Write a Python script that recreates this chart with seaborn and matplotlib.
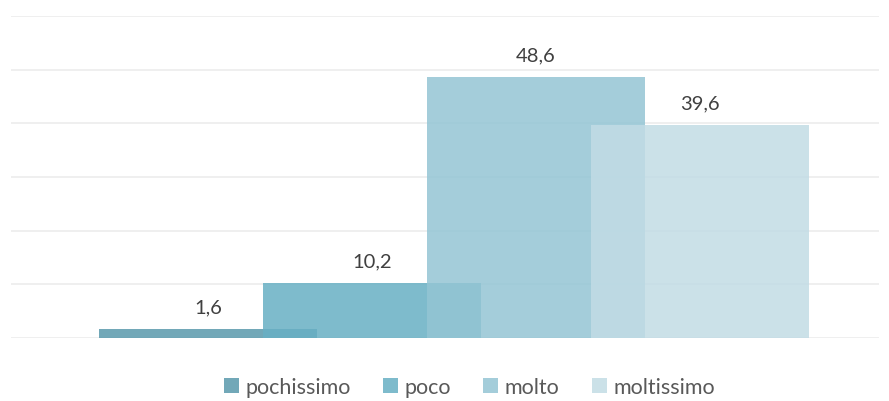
import matplotlib
matplotlib.use("Agg")
import matplotlib.pyplot as plt
import seaborn as sns
import pandas as pd

# ===== dati =====
categorie = ['pochissimo', 'poco', 'molto', 'moltissimo']
valori = [1.6, 10.2, 48.6, 39.6]
etichette = ['1,6', '10,2', '48,6', '39,6']
colori = ['#5999ac', '#68b0c4', '#94c5d4', '#c2dce5']

df = pd.DataFrame({'categoria': categorie, 'valore': valori})

sns.set_theme(style="white")
plt.rcParams['font.family'] = ['Lato', 'DejaVu Sans']

fig = plt.figure(figsize=(8.89, 4.02), dpi=100)
ax = fig.add_axes([0.0124, 0.1567, 0.9764, 0.801])

sns.barplot(data=df, x='categoria', y='valore', hue='categoria',
            palette=colori, width=1.33, alpha=0.85, dodge=False,
            saturation=1, linewidth=0, ax=ax, legend=True)

ax.set_xlim(-1.20, 4.09)
ax.set_ylim(0, 60)
ax.set_yticks(range(0, 61, 10))
ax.yaxis.grid(True, color='#ececec', linewidth=1.2)
ax.set_axisbelow(True)
ax.tick_params(left=False, bottom=False, labelleft=False, labelbottom=False)
ax.set_xlabel('')
ax.set_ylabel('')
for s in ax.spines.values():
    s.set_visible(False)

# ===== etichette valori =====
for i, (v, t) in enumerate(zip(valori, etichette)):
    ax.annotate(t, (i, v), xytext=(0, 10), textcoords='offset points',
                ha='center', va='bottom', fontsize=14.5, color='#404040')

# ===== legenda =====
ax.legend(loc='center', bbox_to_anchor=(0.528, 0.035), bbox_transform=fig.transFigure,
          ncol=4, frameon=False, fontsize=15.5, handlelength=0.7, handleheight=0.7,
          handletextpad=0.3, columnspacing=1.5, labelcolor='#595959')

fig.savefig("out.png", dpi=100)
